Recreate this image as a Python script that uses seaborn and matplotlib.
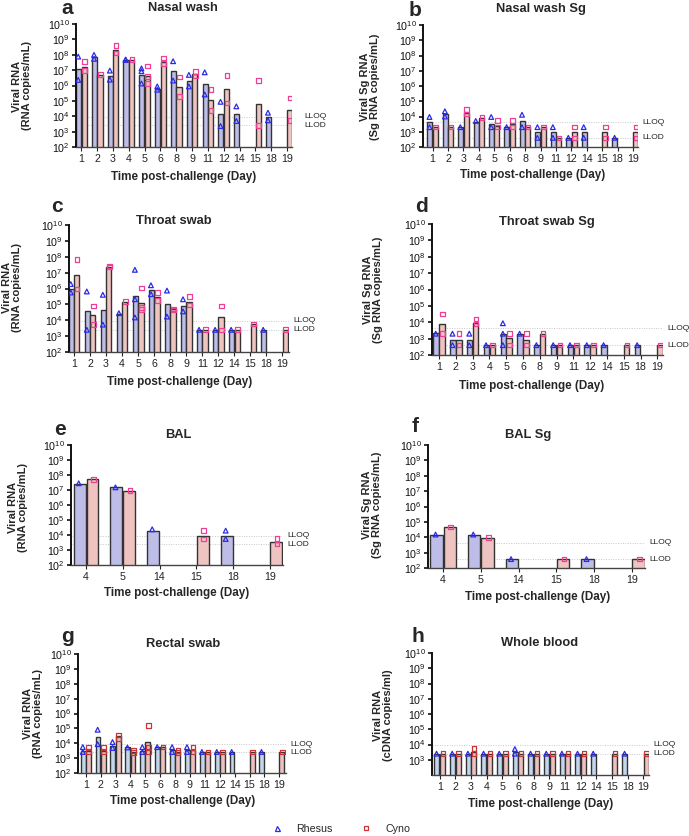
import numpy as np
import pandas as pd
import matplotlib
matplotlib.use("Agg")
import matplotlib.pyplot as plt
import matplotlib.ticker as mticker
from matplotlib.lines import Line2D
from matplotlib.transforms import blended_transform_factory
import seaborn as sns

nan = np.nan

# ---------------- data ----------------
days_main = ['1', '2', '3', '4', '5', '6', '8', '9', '11', '12', '14', '15', '18', '19']
days_bal = ['4', '5', '14', '15', '18', '19']
species = ['Rhesus', 'Cyno']

# a  Nasal wash
a_rh_bar = [1.2e7, 7e7, 4.3e6, 4.9e7, 4.9e6, 6e5, 8.5e6, 2e6, 1.3e6, 1.45e4, 1.45e4, nan, 9e3, nan]
a_cy_bar = [1.7e7, 5.1e6, 2e8, 4.6e7, 4.3e6, 3.6e7, 7.8e5, 6e6, 1.1e5, 5.5e5, nan, 6.5e4, nan, 2.7e4]
a_rh_pts = [[7.6e7, 2.3e6], [9.8e7, 5.4e7], [9.3e6, 2.4e6], [4.9e7, 4.6e7], [1.3e7, 8.5e6, 1.35e6],
            [8.7e5, 5.3e5], [3.8e7, 2.1e6], [4.9e6, 8.7e5], [7.2e6, 2.6e5], [8.7e4, 2.3e3],
            [4.4e4, 4.9e3], [], [1.7e4, 5.4e3], []]
a_cy_pts = [[3.6e7, 9.3e6], [5.3e6], [3.9e8, 1.3e8], [4.9e7], [1.8e7, 3.8e6, 1.3e6],
            [6.2e7, 2.6e7], [3.5e6, 2e5], [8.5e6, 4.1e6], [5.7e5, 2.4e4], [4.6e6, 7.1e4],
            [], [2.1e6, 2.6e3], [], [1.5e5, 5.4e3]]

# b  Nasal wash Sg
b_rh_bar = [4.3e3, 1.4e4, 2e3, 4.4e3, 3.1e3, 2e3, 5e3, 9e2, 9e2, 4e2, 9e2, nan, 4e2, nan]
b_cy_bar = [2e3, 2e3, 1.7e4, 8.5e3, 2.5e3, 3.1e3, 2e3, 2e3, 4e2, 9e2, nan, 9e2, nan, 9e2]
b_rh_pts = [[9.3e3, 2e3], [2.2e4, 1.0e4], [2e3], [5.1e3], [9.3e3, 2e3], [2e3], [1.3e4, 2e3],
            [2e3, 4e2], [2e3, 4e2], [4e2], [2e3, 4e2], [], [4e2], []]
b_cy_pts = [[2e3], [2e3], [2.9e4, 1.5e4], [8.5e3], [5.6e3, 2e3], [5.6e3, 2e3], [2e3], [2e3],
            [4e2], [2e3, 4e2], [], [2e3, 4e2], [], [2e3, 4e2]]

# c  Throat swab
c_rh_bar = [9.5e5, 4e4, 4.2e4, 2.6e4, 3.2e5, 8.3e5, 1.05e5, 7.4e4, 2.5e3, 2.5e3, 2.5e3, nan, 2.5e3, nan]
c_cy_bar = [7.2e6, 2e4, 2.4e7, 1.4e5, 1.3e5, 2.9e5, 5e4, 1.5e5, 2.6e3, 1.5e4, 2.6e3, 5.7e3, nan, 2.6e3]
c_rh_pts = [[1.9e6, 5.6e5], [6.5e5, 2.5e3], [4e5, 5.3e3], [2.8e4], [1.5e7, 2.1e5, 1.5e4],
            [1.6e6, 4.4e5], [7.4e5, 1.7e4], [2.1e5, 3.6e4], [2.5e3], [2.5e3], [2.5e3], [],
            [2.5e3], []]
c_cy_pts = [[6.9e7, 9.5e5], [8.1e4, 5.3e3], [2.6e7, 2.3e7], [1.5e5], [1.05e6, 6.5e4, 4.6e4],
            [5.6e5, 1.8e5], [5e4, 4.5e4], [3.2e5, 9.3e4], [2.6e3], [8.1e4, 2.5e3], [2.6e3],
            [5.7e3], [], [2.6e3]]

# d  Throat swab Sg
d_rh_bar = [2.1e3, 8.7e2, 8.7e2, 4e2, 2e3, 2e3, 4e2, 4e2, 4e2, 4e2, 4e2, nan, 4e2, nan]
d_cy_bar = [7.5e3, 8.7e2, 8.7e3, 4e2, 1.15e3, 8.7e2, 2e3, 4e2, 4e2, 4e2, nan, 4e2, nan, 4e2]
d_rh_pts = [[2e3], [2e3, 4e2], [2e3, 4e2], [4e2], [8.7e3, 2e3, 4e2], [2e3], [4e2], [4e2], [4e2],
            [4e2], [4e2], [], [4e2], []]
d_cy_pts = [[3.1e4, 2e3], [2e3, 4e2], [1.5e4, 8.7e3], [4e2], [2e3, 4e2], [2e3, 4e2], [2e3],
            [4e2], [4e2], [4e2], [], [4e2], [], [4e2]]

# e  BAL
e_rh_bar = [2.5e7, 1.5e7, 1.9e4, nan, 9e3, nan]
e_cy_bar = [5.2e7, 9e6, nan, 9e3, nan, 3.2e3]
e_rh_pts = [[2.8e7], [1.5e7], [2.4e4], [], [1.95e4, 5.4e3], []]
e_cy_pts = [[5.2e7], [9e6], [], [1.95e4, 5.4e3], [], [5.7e3, 2.5e3]]

# f  BAL Sg
f_rh_bar = [1.5e4, 1.5e4, 3.8e2, nan, 3.8e2, nan]
f_cy_bar = [4.7e4, 9.5e3, nan, 3.8e2, nan, 3.8e2]
f_rh_pts = [[1.5e4], [1.5e4], [3.8e2], [], [3.8e2], []]
f_cy_pts = [[4.7e4], [9.5e3], [], [3.8e2], [], [3.8e2]]

# g  Rectal swab
g_rh_bar = [2.8e3, 2.6e4, 6.8e3, 5.2e3, 2.8e3, 5.2e3, 3.3e3, 3.3e3, 2.6e3, 2.6e3, 2.6e3, nan, 2.6e3, nan]
g_cy_bar = [2.8e3, 2.8e3, 2.9e4, 2.6e3, 1.15e4, 5.5e3, 2.6e3, 3.3e3, 2.6e3, 2.6e3, nan, 2.6e3, nan, 2.6e3]
g_rh_pts = [[5.5e3, 2.6e3], [8.1e4, 8.7e3], [1.2e4, 4.8e3], [5.2e3], [5.5e3, 2.6e3], [5.5e3],
            [5.5e3, 2.6e3], [5.5e3, 2.6e3], [2.6e3], [2.6e3], [2.6e3], [], [2.6e3], []]
g_cy_pts = [[5.5e3, 2.6e3], [5.5e3, 2.6e3], [3.7e4, 1.9e4], [3.3e3, 2.3e3], [1.6e5, 5.5e3, 2.6e3],
            [5.5e3], [3.3e3, 2.4e3], [5.5e3, 2.6e3], [2.6e3], [2.6e3], [], [2.6e3], [], [2.6e3]]

# h  Whole blood
h_rh_bar = [2.5e3, 2.5e3, 2.5e3, 2.5e3, 2.5e3, 3.2e3, 2.5e3, 2.5e3, 2.5e3, 2.5e3, 2.5e3, nan, 2.5e3, nan]
h_cy_bar = [2.5e3, 2.5e3, 3.2e3, 2.5e3, 2.5e3, 2.5e3, 2.5e3, 2.5e3, 2.5e3, 2.5e3, nan, 2.5e3, nan, 2.5e3]
h_rh_pts = [[2.5e3], [2.5e3], [2.5e3], [2.5e3], [2.5e3], [5e3, 2.5e3], [2.5e3], [2.5e3], [2.5e3],
            [2.5e3], [2.5e3], [], [2.5e3], []]
h_cy_pts = [[2.5e3], [2.5e3], [5.3e3, 2.5e3], [2.5e3], [2.5e3], [2.5e3], [2.5e3], [2.5e3], [2.5e3],
            [2.5e3], [], [2.5e3], [], [2.5e3]]

# limits (LLOQ, LLOD)
lloq = {'a': 9e3, 'b': 4.2e3, 'c': 9.3e3, 'd': 4.3e3, 'e': 8.6e3, 'f': 4.3e3, 'g': 8.7e3, 'h': 9.5e3}
llod = {'a': 2.6e3, 'b': 4e2, 'c': 2.5e3, 'd': 4e2, 'e': 2.5e3, 'f': 3.8e2, 'g': 2.4e3, 'h': 2.5e3}

titles = {'a': 'Nasal wash', 'b': 'Nasal wash Sg', 'c': 'Throat swab', 'd': 'Throat swab Sg',
          'e': 'BAL', 'f': 'BAL Sg', 'g': 'Rectal swab', 'h': 'Whole blood'}
ylabels = {'a': 'Viral RNA\n(RNA copies/mL)', 'b': 'Viral Sg RNA\n(Sg RNA copies/mL)',
           'c': 'Viral RNA\n(RNA copies/mL)', 'd': 'Viral Sg RNA\n(Sg RNA copies/mL)',
           'e': 'Viral RNA\n(RNA copies/mL)', 'f': 'Viral Sg RNA\n(Sg RNA copies/mL)',
           'g': 'Viral RNA\n(RNA copies/mL)', 'h': 'Viral RNA\n(cDNA copies/ml)'}
xlabel_text = 'Time post-challenge (Day)'

# ---------------- style ----------------
sns.set_style('ticks')
plt.rcParams['font.family'] = ['Liberation Sans', 'DejaVu Sans']
plt.rcParams['mathtext.fontset'] = 'custom'
plt.rcParams['mathtext.rm'] = 'Liberation Sans'
plt.rcParams['mathtext.it'] = 'Liberation Sans:italic'
plt.rcParams['mathtext.bf'] = 'Liberation Sans:bold'

W, H = 689, 836
fig = plt.figure(figsize=(W / 100, H / 100), dpi=100)

pal1 = dict(bar={'Rhesus': '#b6b6ef', 'Cyno': '#f7beb8'}, pt={'Rhesus': '#2a2ae8', 'Cyno': '#ee3f95'})
pal2 = dict(bar={'Rhesus': '#bdd6f1', 'Cyno': '#f6b9b9'}, pt={'Rhesus': '#2a2ae8', 'Cyno': '#c93535'})

# panel geometry in pixels: left, top, right, bottom ; xlim ; LLOQ text offset
panels = {
    'a': dict(box=(76, 24, 292, 147), xlim=(-0.34, 13.32), days=days_main, pal=pal1, toff=12,
              data=(a_rh_bar, a_cy_bar, a_rh_pts, a_cy_pts),
              title=(183, 8), letter=(67, 9), ylab=(22, 86), xlab=(184, 177)),
    'b': dict(box=(423, 25, 638, 147), xlim=(-0.62, 13.32), days=days_main, pal=pal1, toff=4,
              data=(b_rh_bar, b_cy_bar, b_rh_pts, b_cy_pts),
              title=(541, 9), letter=(415, 10), ylab=(370, 87), xlab=(533, 175)),
    'c': dict(box=(69, 225, 289, 352), xlim=(-0.31, 13.41), days=days_main, pal=pal1, toff=4,
              data=(c_rh_bar, c_cy_bar, c_rh_pts, c_cy_pts),
              title=(174, 221), letter=(57, 207), ylab=(12, 287), xlab=(180, 382)),
    'd': dict(box=(432, 224, 663, 355), xlim=(-0.42, 13.34), days=days_main, pal=pal1, toff=4,
              data=(d_rh_bar, d_cy_bar, d_rh_pts, d_cy_pts),
              title=(547, 222), letter=(421, 207), ylab=(373, 290), xlab=(532, 386)),
    'e': dict(box=(71, 445, 283, 565), xlim=(-0.41, 5.36), days=days_bal, pal=pal1, toff=4,
              data=(e_rh_bar, e_cy_bar, e_rh_pts, e_cy_pts),
              title=(178, 435), letter=(60, 429), ylab=(18, 507), xlab=(177, 593)),
    'f': dict(box=(428, 445, 645, 568), xlim=(-0.40, 5.35), days=days_bal, pal=pal1, toff=4,
              data=(f_rh_bar, f_cy_bar, f_rh_pts, f_cy_pts),
              title=(528, 435), letter=(415, 427), ylab=(372, 505), xlab=(538, 597)),
    'g': dict(box=(78, 654, 286, 773), xlim=(-0.52, 13.45), days=days_main, pal=pal2, toff=4,
              data=(g_rh_bar, g_cy_bar, g_rh_pts, g_cy_pts),
              title=(183, 644), letter=(68, 637), ylab=(33, 713), xlab=(183, 801)),
    'h': dict(box=(432, 653, 649, 775), xlim=(-0.49, 13.36), days=days_main, pal=pal2, toff=4,
              data=(h_rh_bar, h_cy_bar, h_rh_pts, h_cy_pts),
              title=(540, 643), letter=(418, 637), ylab=(383, 715), xlab=(541, 804)),
}


def bars_frame(days, rh, cy):
    rows = []
    for d, r, c in zip(days, rh, cy):
        rows.append((d, 'Rhesus', r))
        rows.append((d, 'Cyno', c))
    df = pd.DataFrame(rows, columns=['day', 'species', 'value'])
    return df.dropna()


def pts_frame(days, pts, sp):
    rows = [(d, sp, v) for d, vals in zip(days, pts) for v in vals]
    return pd.DataFrame(rows, columns=['day', 'species', 'value'])


def fx(x):
    return x / W


def fy(y):
    return 1 - y / H


for key, p in panels.items():
    l, t, r, b = p['box']
    ax = fig.add_axes([fx(l), fy(b), (r - l) / W, (b - t) / H])
    ax.set_yscale('log')
    days = p['days']
    rh_bar, cy_bar, rh_pts, cy_pts = p['data']
    pal = p['pal']

    sns.barplot(data=bars_frame(days, rh_bar, cy_bar), x='day', y='value', hue='species',
                order=days, hue_order=species, palette=pal['bar'], width=0.7, gap=0.07,
                edgecolor='#333333', linewidth=1.0, errorbar=None, legend=False, ax=ax,
                zorder=2)

    for sp, pts, mk in (('Rhesus', rh_pts, '^'), ('Cyno', cy_pts, 's')):
        n0 = len(ax.collections)
        sns.stripplot(data=pts_frame(days, pts, sp), x='day', y='value', hue='species',
                      order=days, hue_order=species, palette=pal['pt'], dodge=True,
                      jitter=False, marker=mk, size=3.4 if mk == '^' else 3.3,
                      linewidth=0.9, legend=False, ax=ax, zorder=3)
        for coll in ax.collections[n0:]:
            coll.set_edgecolor(pal['pt'][sp])
            coll.set_facecolor('none')
            coll.set_linewidth(0.9)

    # limit lines
    ax.axhline(lloq[key], color='#c8c8c8', lw=0.7, ls=(0, (1, 1.5)), zorder=0.5)
    ax.axhline(llod[key], color='#c8c8c8', lw=0.7, ls=(0, (1, 1.5)), zorder=0.5)
    trans = blended_transform_factory(ax.transAxes, ax.transData)
    xo = 1 + p['toff'] / (r - l)
    ax.text(xo, lloq[key], 'LLOQ', transform=trans, fontsize=6, va='center', ha='left',
            color='#222222')
    ax.text(xo, llod[key], 'LLOD', transform=trans, fontsize=6, va='center', ha='left',
            color='#222222')

    ax.set_ylim(1e2, 1e10)
    ax.set_xlim(*p['xlim'])
    if key == 'h':
        ax.set_yticks([10.0 ** k for k in range(3, 11)])
    else:
        ax.set_yticks([10.0 ** k for k in range(2, 11)])
    ax.yaxis.set_major_formatter(mticker.LogFormatterMathtext())
    ax.yaxis.set_minor_locator(mticker.NullLocator())
    ax.set_xlabel('')
    ax.set_ylabel('')
    sns.despine(ax=ax)
    ax.spines['left'].set_linewidth(1.4)
    ax.spines['left'].set_color('#111111')
    ax.spines['bottom'].set_linewidth(1.0)
    ax.spines['bottom'].set_color('#444444')
    ax.tick_params(axis='y', length=3, width=1.2, labelsize=7.7, pad=1.5, colors='#111111')
    ax.tick_params(axis='x', length=3, width=0.8, labelsize=7.7, pad=2, colors='#222222')

    fig.text(fx(p['title'][0]), fy(p['title'][1]), titles[key], fontsize=9.3,
             fontweight='bold', ha='center', va='center')
    fig.text(fx(p['letter'][0]), fy(p['letter'][1]), key, fontsize=15,
             fontweight='bold', ha='center', va='center')
    fig.text(fx(p['ylab'][0]), fy(p['ylab'][1]), ylabels[key], fontsize=8,
             fontweight='bold', ha='center', va='center', rotation=90,
             multialignment='center', linespacing=1.1)
    fig.text(fx(p['xlab'][0]), fy(p['xlab'][1]), xlabel_text, fontsize=8.4,
             fontweight='bold', ha='center', va='center')

# legend
handles = [Line2D([], [], ls='', marker='^', mfc='none', mec='#2a2ae8', mew=0.9, ms=3.6),
           Line2D([], [], ls='', marker='s', mfc='none', mec='#c93535', mew=0.9, ms=3.4)]
fig.legend(handles, species, loc='center', bbox_to_anchor=(fx(341), fy(829)), ncol=2,
           frameon=False, fontsize=7.7, handlelength=1.0, handletextpad=1.3,
           columnspacing=2.6, borderpad=0)

fig.savefig('out.png', dpi=100)
